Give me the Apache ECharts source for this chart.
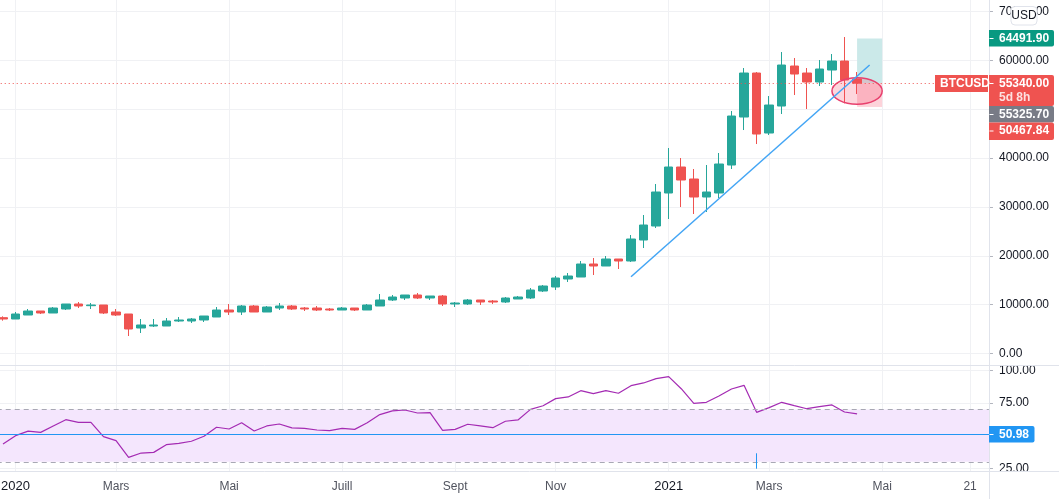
<!DOCTYPE html>
<html>
<head>
<meta charset="utf-8">
<script src="https://cdn.jsdelivr.net/npm/echarts@6/dist/echarts.min.js"></script>
<style>
html,body{margin:0;padding:0;background:#fff;}
#main{width:1059px;height:499px;}
</style>
</head>
<body>
<div id="main"></div>
<script>
// weekly candles
var categories = ['2019-12-23','2019-12-30','2020-01-06','2020-01-13','2020-01-20','2020-01-27','2020-02-03','2020-02-10','2020-02-17','2020-02-24',
  '2020-03-02','2020-03-09','2020-03-16','2020-03-23','2020-03-30','2020-04-06','2020-04-13','2020-04-20','2020-04-27','2020-05-04',
  '2020-05-11','2020-05-18','2020-05-25','2020-06-01','2020-06-08','2020-06-15','2020-06-22','2020-06-29','2020-07-06','2020-07-13',
  '2020-07-20','2020-07-27','2020-08-03','2020-08-10','2020-08-17','2020-08-24','2020-08-31','2020-09-07','2020-09-14','2020-09-21',
  '2020-09-28','2020-10-05','2020-10-12','2020-10-19','2020-10-26','2020-11-02','2020-11-09','2020-11-16','2020-11-23','2020-11-30',
  '2020-12-07','2020-12-14','2020-12-21','2020-12-28','2021-01-04','2021-01-11','2021-01-18','2021-01-25','2021-02-01','2021-02-08',
  '2021-02-15','2021-02-22','2021-03-01','2021-03-08','2021-03-15','2021-03-22','2021-03-29','2021-04-05','2021-04-12','2021-04-19',
  '2021-04-26','2021-05-03','2021-05-10','2021-05-17','2021-05-24','2021-05-31','2021-06-07','2021-06-14','2021-06-21'];
var opens = [7335,7062,7881,8700,8290,9109,10132,9791,9928,8495,8085,5219,5628,5628,6652,6652,6857,7471,8904,8495,
  9723,8495,9314,9723,9314,9314,9109,8904,9312,8904,9722,10951,11360,11974,11360,11770,10132,10132,10951,10746,
  10541,11155,11360,12793,13612,15250,15659,18320,17911,19344,18935,23232,26098,32854,38176,35720,32035,32854,38582,48409,
  57416,45134,50660,58849,57416,55574,58031,59873,56188];
var closes = [7062,8085,8700,8290,9314,10132,9723,9928,8290,7881,5015,5837,5837,6652,6857,7062,7676,8904,8495,9723,
  8495,9518,9723,9109,9109,8904,8904,9314,8904,9927,10951,11565,11974,11360,11770,10132,10336,10951,10541,10541,
  11360,11565,12998,13817,15454,15864,18320,17911,19344,18935,23438,26303,33058,38176,35515,32035,33058,38790,48613,57416,
  44929,50865,59054,57212,55574,58235,59873,55983,55340];
var lows = [6720,7062,7881,8085,8290,8904,9314,9109,8085,7676,3581,4196,5424,5628,6448,6243,6448,7471,7881,7881,
  8495,8495,8904,8904,8700,8700,8700,8904,8699,8904,9722,10746,10951,11155,10951,9722,9517,9927,9927,10131,
  10336,11155,11155,12588,13000,14636,15659,16068,17911,17297,18730,21594,25689,27531,29987,28555,28964,31830,37767,45747,
  42881,44724,49023,52913,50047,54755,54960,51206,53117];
var highs = [7608,8495,9109,8700,9518,10132,10542,10337,9928,9109,8085,7062,7062,7266,7471,7266,7676,9518,10132,9928,
  9928,9723,10337,9928,9518,9723,9314,9518,9312,10131,12179,11974,11974,12383,11770,11974,10541,11155,10951,10951,
  11565,11770,13407,14021,15864,16478,18935,19549,19958,19344,24257,28350,34696,42066,40019,37767,38586,41042,49637,58440,
  57621,52708,61716,60487,58440,60078,61306,64786,57621];
var rsiValues = [43.6,50.0,53.5,52.5,57.4,62.2,60.2,60.2,49.2,46.2,33.4,36.7,37.2,43.1,44.1,45.7,49.5,56.4,55.1,59.9,
  53.5,57.4,58.9,55.9,55.6,54.3,53.8,55.6,54.8,59.9,66.1,68.9,69.6,67.3,67.6,54.1,54.8,58.7,57.4,56.1,
  61.0,62.0,70.1,72.9,78.3,79.6,84.4,82.1,84.4,82.4,88.2,90.3,93.6,95.1,85.9,74.7,75.5,80.3,85.7,88.5,
  67.8,71.4,75.5,72.9,70.6,72.2,73.5,68.1,66.6];
var priceTicks = [0,10000,20000,30000,40000,50000,60000,70000];
var rsiTicks = [25,50,75,100];
var monthLabels = {'2019-12-30':'2020','2020-02-24':'Mars','2020-04-27':'Mai','2020-06-29':'Juill','2020-08-31':'Sept',
  '2020-10-26':'Nov','2020-12-28':'2021','2021-02-22':'Mars','2021-04-26':'Mai','2021-06-14':'21'};
var trendLine = [[50,15722],[69,59058]];
var rsiMark = [[60,36.5],[60,24.7]];
var lastPrice = 55340, targetPrice = 64491.9, stopPrice = 50467.84, rsiLevel = 50.98;
var positionStart = 68, positionEnd = 70;
var ellipseBox = {from:66, to:70, top:56460, bottom:51010};

var UP = '#26a69a', DOWN = '#ef5350', BLUE = '#2196f3', GRID = '#f0f1f4', LINE = '#e0e3eb', FONT = 'Liberation Sans';

var isLabeled = function(i, v){ return monthLabels[v] !== undefined; };

var chart = echarts.init(document.getElementById('main'));

function tag(x, y, w, h, color, lines){
  var out = [{type:'rect', z:50, shape:{x:x, y:y, width:w, height:h, r:x < 989 ? 0 : [0,2,2,0]}, style:{fill:color}}];
  if(x >= 989) out.push({type:'rect', z:51, shape:{x:989.5, y:y + 8, width:4, height:1}, style:{fill:'#fff'}});
  lines.forEach(function(l, n){
    out.push({type:'text', z:52, style:{text:l.t, x:x + (l.dx || 10), y:y + 8.5 + n * 14.5, fill:l.c || '#fff', font:'bold 12px ' + FONT, textVerticalAlign:'middle'}});
  });
  return out;
}

var graphics = [
  // cut the scale labels at the pane borders
  {type:'rect', z:40, shape:{x:990, y:358.5, width:69, height:6.5}, style:{fill:'#fff'}},
  {type:'rect', z:40, shape:{x:990, y:472, width:69, height:6}, style:{fill:'#fff'}},
  {type:'line', z:41, shape:{x1:0, y1:365.5, x2:1059, y2:365.5}, style:{stroke:LINE, lineWidth:1}},
  {type:'line', z:41, shape:{x1:0, y1:471.5, x2:1059, y2:471.5}, style:{stroke:LINE, lineWidth:1}},
  {type:'line', z:41, shape:{x1:989.5, y1:0, x2:989.5, y2:499}, style:{stroke:LINE, lineWidth:1}},
  {type:'rect', z:60, shape:{x:1011, y:6.5, width:26, height:18.5, r:4}, style:{fill:'#fff', stroke:LINE, lineWidth:1}},
  {type:'text', z:61, style:{text:'USD', x:1024, y:15.5, fill:'#131722', font:'12px ' + FONT, textAlign:'center', textVerticalAlign:'middle'}}
].concat(
  tag(989, 30, 65, 16.5, '#089981', [{t:'64491.90'}]),
  tag(989, 75, 65, 31, DOWN, [{t:'55340.00'},{t:'5d 8h', c:'#fde0e0'}]),
  tag(989, 106, 65, 16.5, '#787b86', [{t:'55325.70'}]),
  tag(989, 122.5, 65, 17.5, DOWN, [{t:'50467.84'}]),
  tag(935, 75, 53, 17, DOWN, [{t:'BTCUSD', dx:5}]),
  tag(989, 426, 45.5, 16.5, BLUE, [{t:'50.98'}])
);

var option = {
  animation:false,
  backgroundColor:'#fff',
  textStyle:{fontFamily:FONT},
  graphic:{elements:graphics},
  grid:[
    {left:-3.28, top:0, width:992.24, height:365.3, outerBoundsMode:'none'},
    {left:-3.28, top:365.7, width:992.24, height:105.5, outerBoundsMode:'none'}
  ],
  xAxis:[
    {type:'category', gridIndex:0, data:categories, axisLine:{show:false}, axisTick:{show:false}, axisLabel:{show:false},
      splitLine:{show:true, interval:isLabeled, alignWithLabel:true, lineStyle:{color:GRID}}},
    {type:'category', gridIndex:1, data:categories, axisLine:{show:false}, axisTick:{show:false},
      axisLabel:{interval:isLabeled, margin:9,
        formatter:function(v){
          var s = monthLabels[v] || '';
          return s.length === 4 && s.charAt(0) === '2' ? '{y|' + s + '}' : s;
        },
        color:'#50535e', fontSize:12, fontFamily:FONT,
        rich:{y:{color:'#131722', fontSize:13, fontFamily:FONT}}},
      splitLine:{show:true, interval:isLabeled, alignWithLabel:true, lineStyle:{color:GRID}}}
  ],
  yAxis:[
    {type:'value', gridIndex:0, position:'right', min:-2415, max:72365,
      axisLine:{show:false}, axisTick:{show:true, length:4, customValues:priceTicks, lineStyle:{color:'#b2b5be'}},
      axisLabel:{margin:10, customValues:priceTicks, color:'#131722', fontSize:12, fontFamily:FONT, formatter:function(v){return v.toFixed(2);}},
      splitLine:{show:true, lineStyle:{color:GRID}}},
    {type:'value', gridIndex:1, position:'right', min:22.8, max:103.5,
      axisLine:{show:false}, axisTick:{show:true, length:4, customValues:rsiTicks, lineStyle:{color:'#b2b5be'}},
      axisLabel:{margin:10, customValues:rsiTicks, color:'#131722', fontSize:12, fontFamily:FONT, formatter:function(v){return v.toFixed(2);}},
      splitLine:{show:true, lineStyle:{color:GRID}}}
  ],
  series:[
    {
      name:'BTCUSD', type:'candlestick', xAxisIndex:0, yAxisIndex:0, barWidth:9, z:3,
      data:opens.map(function(o, i){ return [o, closes[i], lows[i], highs[i]]; }),
      itemStyle:{color:UP, color0:DOWN, borderColor:UP, borderColor0:DOWN, borderWidth:1},
      markArea:{silent:true, z:1, data:[
        [{coord:[positionStart, targetPrice], itemStyle:{color:'#cbe9e9'}},{coord:[positionEnd, lastPrice]}],
        [{coord:[positionStart, lastPrice], itemStyle:{color:'#fdd3da'}},{coord:[positionEnd, stopPrice]}]
      ]},
      markLine:{silent:true, symbol:'none', z:6, animation:false, label:{show:false}, data:[
        {yAxis:lastPrice, lineStyle:{color:DOWN, type:[1,3], width:1}},
        [{coord:trendLine[0], lineStyle:{color:'#42a5f5', type:'solid', width:1.5}},{coord:trendLine[1]}]
      ]}
    },
    {
      name:'Zone', type:'custom', xAxisIndex:0, yAxisIndex:0, z:5, silent:true, clip:false,
      data:[[ellipseBox.from, ellipseBox.top, ellipseBox.to, ellipseBox.bottom]],
      renderItem:function(params, api){
        var a = api.coord([api.value(0), api.value(1)]);
        var b = api.coord([api.value(2), api.value(3)]);
        return {type:'ellipse', shape:{cx:(a[0] + b[0]) / 2, cy:(a[1] + b[1]) / 2, rx:(b[0] - a[0]) / 2, ry:(b[1] - a[1]) / 2},
          style:{fill:'rgba(244,67,100,0.22)', stroke:'#e8406e', lineWidth:1.5}};
      }
    },
    {
      name:'RSI', type:'line', xAxisIndex:1, yAxisIndex:1, data:rsiValues, symbol:'none', z:4,
      lineStyle:{color:'#a42bb3', width:1.2},
      markArea:{silent:true, z:1, itemStyle:{color:'#f4e6fd'}, data:[[{yAxis:70},{yAxis:30}]]},
      markLine:{silent:true, symbol:'none', animation:false, label:{show:false}, data:[
        {yAxis:70, lineStyle:{color:'#a8a8b4', type:[5,4], width:1}},
        {yAxis:30, lineStyle:{color:'#a8a8b4', type:[5,4], width:1}},
        {yAxis:rsiLevel, lineStyle:{color:BLUE, type:'solid', width:1.2}},
        [{coord:rsiMark[0], lineStyle:{color:BLUE, type:'solid', width:1}},{coord:rsiMark[1]}]
      ]}
    }
  ]
};
chart.setOption(option);
</script>
</body>
</html>
